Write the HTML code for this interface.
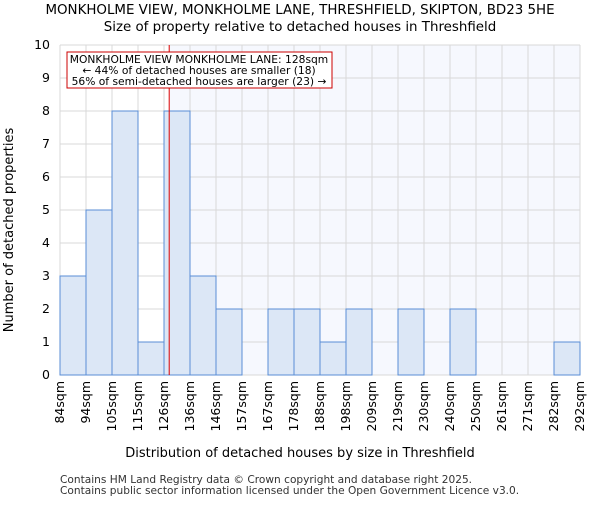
<!DOCTYPE html>
<html><head><meta charset="utf-8"><style>body{margin:0;background:#fff}svg{font-family:"DejaVu Sans","Liberation Sans",sans-serif}</style></head>
<body>
<svg id="c" width="600" height="500" xmlns="http://www.w3.org/2000/svg">
<text x="300" y="14" text-anchor="middle" font-size="13.4">MONKHOLME VIEW, MONKHOLME LANE, THRESHFIELD, SKIPTON, BD23 5HE</text>
<text x="300" y="31" text-anchor="middle" font-size="13.4">Size of property relative to detached houses in Threshfield</text>
<g id="plot"></g>
<text x="300" y="457" text-anchor="middle" font-size="13">Distribution of detached houses by size in Threshfield</text>
<text transform="translate(13,230) rotate(-90)" text-anchor="middle" font-size="13">Number of detached properties</text>
<text x="60" y="483" font-size="10.6" fill="#333">Contains HM Land Registry data © Crown copyright and database right 2025.</text>
<text x="60" y="494" font-size="10.6" fill="#333">Contains public sector information licensed under the Open Government Licence v3.0.</text>
</svg>
<script>
const categories=["84sqm","94sqm","105sqm","115sqm","126sqm","136sqm","146sqm","157sqm","167sqm","178sqm","188sqm","198sqm","209sqm","219sqm","230sqm","240sqm","250sqm","261sqm","271sqm","282sqm","292sqm"];
const counts=[3,5,8,1,8,3,2,0,2,2,1,2,0,2,0,2,0,0,0,1];
const yTicks=[0,1,2,3,4,5,6,7,8,9,10];
const markerBin=4.2;
const NS="http://www.w3.org/2000/svg";
const L=60,R=580,T=45,B=375,yMax=10;
const bw=(R-L)/counts.length;
const xs=i=>L+i*bw, ys=v=>B-(B-T)*v/yMax;
const g=document.getElementById('plot');
function mk(t,a,p){const e=document.createElementNS(NS,t);for(const k in a)e.setAttribute(k,a[k]);(p||g).appendChild(e);return e;}
let e=mk('rect',{x:xs(markerBin),y:T,width:R-xs(markerBin),height:B-T,fill:'#f6f8fe'});


yTicks.forEach(v=>{e=mk('line',{x1:L,x2:R,y1:ys(v),y2:ys(v),stroke:'#d8d8d8'});


e=mk('text',{x:L-10,y:ys(v)+4,'text-anchor':'end','font-size':12.5});e.textContent=v;

});
categories.forEach((c,i)=>{e=mk('line',{x1:xs(i),x2:xs(i),y1:T,y2:B,stroke:'#d8d8d8'});


const x=xs(i);e=mk('text',{transform:`translate(${x+4},${B+6}) rotate(-90)`,'text-anchor':'end','font-size':12.5});e.textContent=c;

});
counts.forEach((v,i)=>{if(!v)return;e=mk('rect',{x:xs(i),y:ys(v),width:bw,height:B-ys(v),fill:'#dce7f6',stroke:'#5a8ed6','stroke-width':1});

});
e=mk('line',{x1:xs(markerBin),x2:xs(markerBin),y1:T,y2:B,stroke:'#dd0000','stroke-width':1});


e=mk('rect',{x:67,y:52,width:265,height:36,fill:'#fff',stroke:'#cc0000'});


["MONKHOLME VIEW MONKHOLME LANE: 128sqm","← 44% of detached houses are smaller (18)","56% of semi-detached houses are larger (23) →"].forEach((t,i)=>{e=mk('text',{x:199,y:63+i*11,'text-anchor':'middle','font-size':10.7});e.textContent=t;

});
</script>
</body></html>
